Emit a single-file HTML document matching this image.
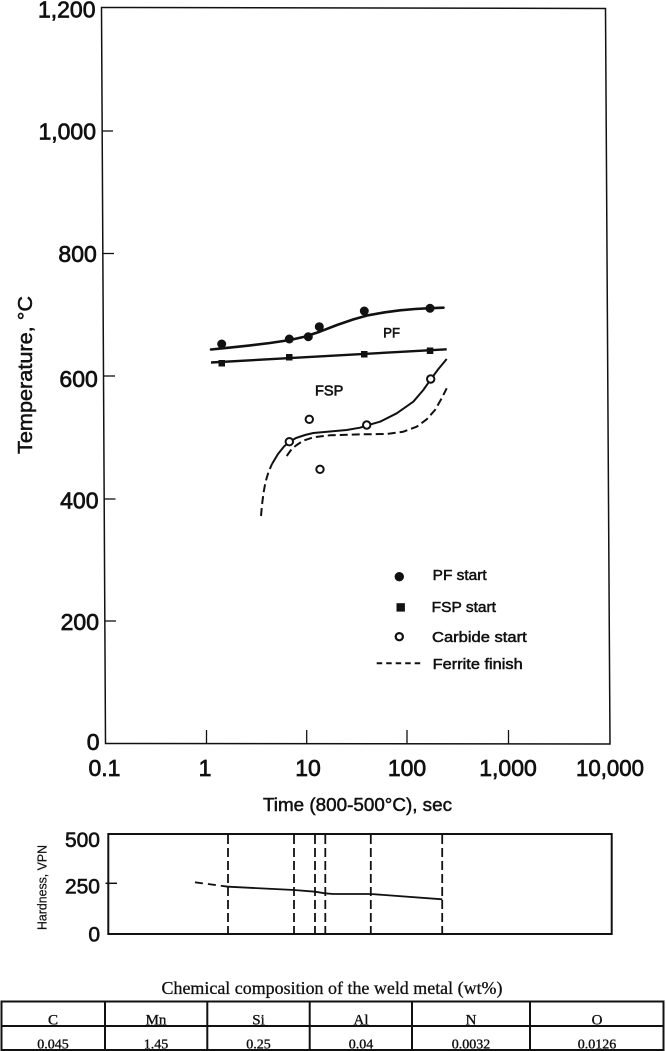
<!DOCTYPE html>
<html>
<head>
<meta charset="utf-8">
<style>
  html,body{margin:0;padding:0;background:#fff;}
  svg{display:block;}
  .s{font-family:"Liberation Sans",Arial,sans-serif;fill:#111;}
  .t{font-family:"Liberation Serif","Times New Roman",serif;fill:#111;}
</style>
</head>
<body>
<svg width="666" height="1051" viewBox="0 0 666 1051" xmlns="http://www.w3.org/2000/svg">
  <rect x="0" y="0" width="666" height="1051" fill="#fff"/>

  <!-- Main frame -->
  <path d="M101.5,7.5 L605.5,8.5 L610,744 L105.5,743.5 Z" fill="none" stroke="#111" stroke-width="1.5"/>

  <!-- Y ticks -->
  <g stroke="#111" stroke-width="1.3">
    <line x1="102.2" y1="131" x2="113" y2="131"/>
    <line x1="102.8" y1="253.5" x2="114" y2="253.5"/>
    <line x1="103.5" y1="376" x2="115" y2="376"/>
    <line x1="104.2" y1="499" x2="115.5" y2="499"/>
    <line x1="104.8" y1="621" x2="116" y2="621"/>
  </g>
  <!-- X ticks -->
  <g stroke="#111" stroke-width="1.3">
    <line x1="206.5" y1="743.5" x2="206.5" y2="730"/>
    <line x1="306.7" y1="743.5" x2="306.7" y2="730"/>
    <line x1="407" y1="743.7" x2="407" y2="730"/>
    <line x1="508.5" y1="743.8" x2="508.5" y2="730"/>
  </g>

  <!-- Y labels -->
  <g class="s" font-size="23" text-anchor="end" stroke="#111" stroke-width="0.7">
    <text x="95.5" y="17.3">1,200</text>
    <text x="96" y="139.5">1,000</text>
    <text x="96.8" y="262">800</text>
    <text x="97.8" y="387">600</text>
    <text x="98.5" y="508.5">400</text>
    <text x="99" y="630">200</text>
    <text x="99.5" y="750">0</text>
  </g>
  <!-- X labels -->
  <g class="s" font-size="23" text-anchor="middle" stroke="#111" stroke-width="0.7">
    <text x="104.5" y="776">0.1</text>
    <text x="205" y="776">1</text>
    <text x="308" y="776">10</text>
    <text x="407" y="776">100</text>
    <text x="508" y="776">1,000</text>
    <text x="610" y="776" textLength="68" lengthAdjust="spacingAndGlyphs">10,000</text>
  </g>

  <!-- Axis titles -->
  <text class="s" x="357.5" y="811" font-size="18" text-anchor="middle" textLength="189" lengthAdjust="spacingAndGlyphs" stroke="#111" stroke-width="0.5">Time (800-500°C), sec</text>
  <text class="s" transform="translate(32,375) rotate(-90)" font-size="20" text-anchor="middle" textLength="158" lengthAdjust="spacingAndGlyphs" stroke="#111" stroke-width="0.5">Temperature, °C</text>

  <!-- PF curve -->
  <polyline fill="none" stroke="#111" stroke-width="2.6" stroke-linejoin="round" stroke-linecap="round"
    points="211,349.5 230,347.6 250,345.4 270,343 290,340 305,336.6 320,331.6 337,325 353,319.5 368,315.3 385,312.3 400,310.3 415,309 430,308.2 443.5,307.7"/>
  <!-- FSP line -->
  <line x1="211" y1="362.5" x2="446.7" y2="349.3" stroke="#111" stroke-width="2.4"/>

  <!-- Ferrite finish lower dashed -->
  <polyline fill="none" stroke="#111" stroke-width="2" stroke-dasharray="8,4"
    points="261,516 262,505 263.5,493 265.5,482 268.5,472 272,464"/>
  <!-- Carbide solid curve -->
  <polyline fill="none" stroke="#111" stroke-width="2" stroke-linejoin="round"
    points="272,464 278,454 284,446.5 289.3,442 296,438 305,435 313.3,433 330,431.5 346.7,430 360,427.7 366.7,425.5 380,421.7 396.7,413.3 413.3,401.7 423.3,390 430.7,379.5 438,369.5 446.7,359"/>
  <!-- Ferrite finish upper dashed -->
  <polyline fill="none" stroke="#111" stroke-width="2" stroke-dasharray="8,4" stroke-linejoin="round"
    points="286.7,456 291.7,449 296.7,445 303.3,440.7 313.3,437.3 330,435.3 363.3,434.3 386.7,434 403.3,431.7 416.7,426.7 426.7,419.3 435,410 441.7,398.3 446.7,388.3"/>

  <!-- PF start markers -->
  <g fill="#111">
    <circle cx="221.7" cy="344" r="4.5"/>
    <circle cx="289.3" cy="339" r="4.5"/>
    <circle cx="308.3" cy="336.7" r="4.5"/>
    <circle cx="319.3" cy="326.7" r="4.5"/>
    <circle cx="364.3" cy="311" r="4.5"/>
    <circle cx="430" cy="308.3" r="4.5"/>
  </g>
  <!-- FSP start markers -->
  <g fill="#111">
    <rect x="218.5" y="360" width="6.5" height="6.5"/>
    <rect x="286" y="354" width="6.5" height="6.5"/>
    <rect x="361" y="351" width="6.5" height="6.5"/>
    <rect x="426.8" y="347.5" width="6.5" height="6.5"/>
  </g>
  <!-- Carbide start markers -->
  <g fill="#fff" stroke="#111" stroke-width="2">
    <circle cx="309.3" cy="419.3" r="3.7"/>
    <circle cx="289.3" cy="441.7" r="3.7"/>
    <circle cx="320" cy="469.3" r="3.7"/>
    <circle cx="366.7" cy="425" r="3.7"/>
    <circle cx="430.7" cy="379" r="3.7"/>
  </g>

  <!-- Region labels -->
  <text class="s" x="383.3" y="337.7" font-size="13.5" textLength="16.7" lengthAdjust="spacingAndGlyphs" stroke="#111" stroke-width="0.6">PF</text>
  <text class="s" x="315" y="395.7" font-size="14.5" textLength="28.3" lengthAdjust="spacingAndGlyphs" stroke="#111" stroke-width="0.6">FSP</text>

  <!-- Legend -->
  <circle cx="399.3" cy="576.7" r="4.7" fill="#111"/>
  <rect x="396.5" y="603.2" width="8.4" height="8.4" fill="#111"/>
  <circle cx="399.3" cy="636.7" r="3.6" fill="#fff" stroke="#111" stroke-width="2.2"/>
  <line x1="376.7" y1="663.3" x2="424" y2="663.3" stroke="#111" stroke-width="2" stroke-dasharray="5.5,4"/>
  <g class="s" font-size="14.5" stroke="#111" stroke-width="0.5">
    <text x="432.7" y="580" textLength="54" lengthAdjust="spacingAndGlyphs">PF start</text>
    <text x="431.7" y="612" textLength="64.3" lengthAdjust="spacingAndGlyphs">FSP start</text>
    <text x="432" y="642" textLength="94.7" lengthAdjust="spacingAndGlyphs">Carbide start</text>
    <text x="432.7" y="669" textLength="90" lengthAdjust="spacingAndGlyphs">Ferrite finish</text>
  </g>

  <!-- Hardness plot -->
  <rect x="108.3" y="834" width="503.4" height="100" fill="none" stroke="#111" stroke-width="2"/>
  <line x1="105.5" y1="883.3" x2="117" y2="883.3" stroke="#111" stroke-width="1.5"/>
  <g stroke="#111" stroke-width="1.8" stroke-dasharray="9,4">
    <line x1="228" y1="835" x2="228" y2="933"/>
    <line x1="294" y1="835" x2="294" y2="933"/>
    <line x1="315" y1="835" x2="315" y2="933"/>
    <line x1="325.3" y1="835" x2="325.3" y2="933"/>
    <line x1="370.8" y1="835" x2="370.8" y2="933"/>
    <line x1="442.2" y1="835" x2="442.2" y2="933"/>
  </g>
  <line x1="195" y1="882.3" x2="228" y2="886.7" stroke="#111" stroke-width="1.8" stroke-dasharray="8,5"/>
  <polyline fill="none" stroke="#111" stroke-width="1.8"
    points="228,886.7 294,890 315,891.7 325,893.3 333,894 370.7,894 442.3,899.3"/>
  <g class="s" font-size="21" text-anchor="end" stroke="#111" stroke-width="0.6">
    <text x="100" y="847">500</text>
    <text x="100" y="893.5">250</text>
    <text x="100" y="941.5">0</text>
  </g>
  <text class="s" transform="translate(46.5,887.5) rotate(-90)" font-size="12.5" text-anchor="middle" textLength="85" lengthAdjust="spacingAndGlyphs" stroke="#111" stroke-width="0.2">Hardness, VPN</text>

  <!-- Table -->
  <text class="t" x="332" y="994" font-size="18" text-anchor="middle" textLength="341" lengthAdjust="spacingAndGlyphs" stroke="#111" stroke-width="0.3">Chemical composition of the weld metal (wt%)</text>
  <g stroke="#111" stroke-width="2" fill="none">
    <rect x="1.5" y="1001.5" width="662" height="48.5"/>
    <line x1="1.5" y1="1026" x2="663.5" y2="1026"/>
    <line x1="105" y1="1001.5" x2="105" y2="1050"/>
    <line x1="207.3" y1="1001.5" x2="207.3" y2="1050"/>
    <line x1="309.7" y1="1001.5" x2="309.7" y2="1050"/>
    <line x1="412" y1="1001.5" x2="412" y2="1050"/>
    <line x1="530" y1="1001.5" x2="530" y2="1050"/>
  </g>
  <g class="t" font-size="15" text-anchor="middle" stroke="#111" stroke-width="0.35">
    <text x="53" y="1024.5">C</text>
    <text x="156" y="1024.5">Mn</text>
    <text x="258.5" y="1024.5">Si</text>
    <text x="361" y="1024.5">Al</text>
    <text x="471" y="1024.5">N</text>
    <text x="597" y="1024.5">O</text>
  </g>
  <g class="t" font-size="14" text-anchor="middle" stroke="#111" stroke-width="0.35">
    <text x="53" y="1048.5">0.045</text>
    <text x="156" y="1048.5">1.45</text>
    <text x="258.5" y="1048.5">0.25</text>
    <text x="361" y="1048.5">0.04</text>
    <text x="471" y="1048.5">0.0032</text>
    <text x="597" y="1048.5">0.0126</text>
  </g>
</svg>
</body>
</html>
